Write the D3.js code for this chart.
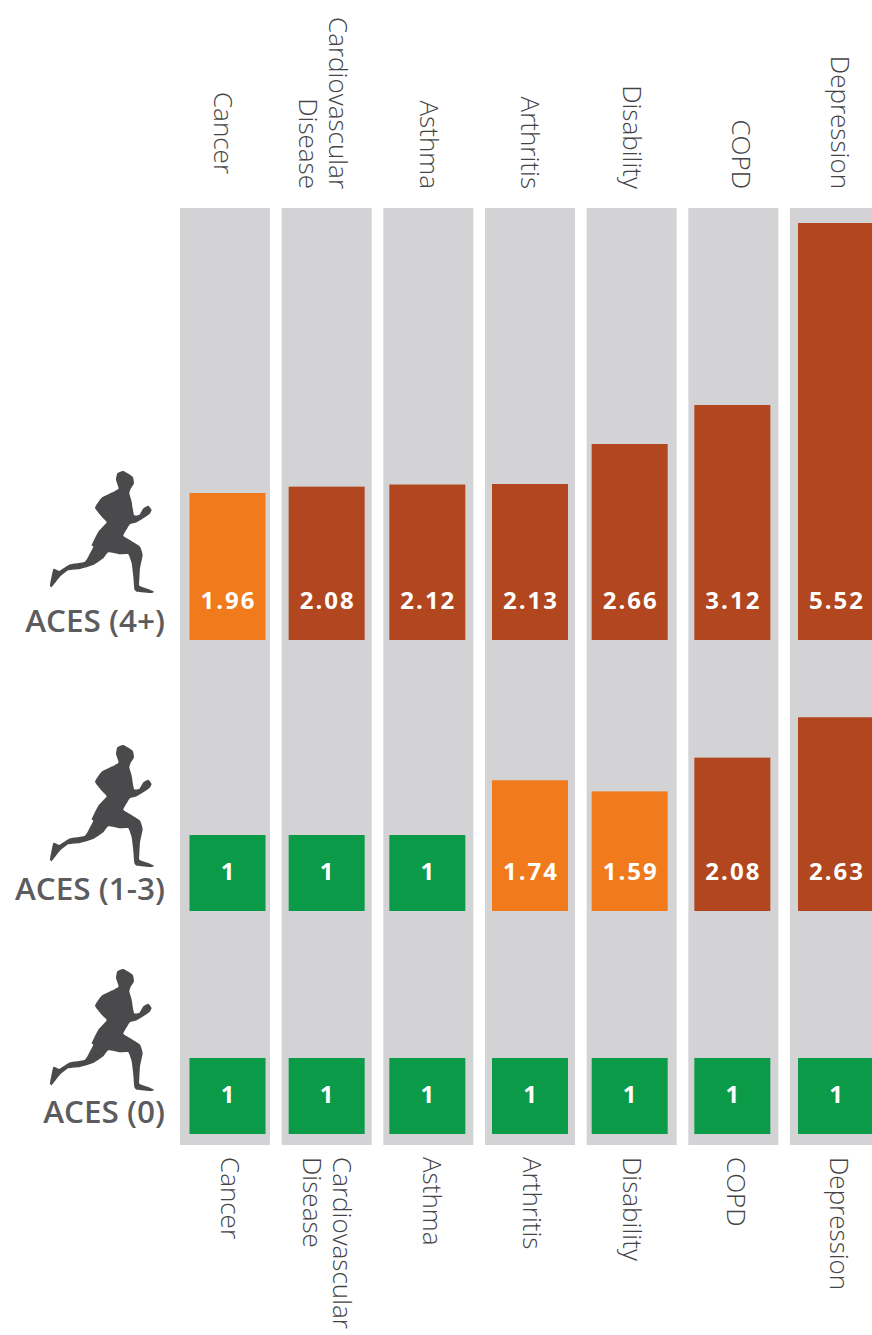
<!DOCTYPE html>
<html lang="en">
<head>
<meta charset="utf-8">
<title>ACES</title>
<script src="https://d3js.org/d3.v7.min.js"></script>
<style>
html, body { margin: 0; padding: 0; background: #fff; overflow: hidden; }
svg { display: block; }
.cat { font-family: "Open Sans", sans-serif; font-size: 26px; font-weight: 300; fill: #444446; }
.row-label { font-family: "Open Sans", sans-serif; font-size: 31.5px; font-weight: 600; fill: #5c5c5e; text-anchor: end; }
.val { font-family: "Open Sans", sans-serif; font-size: 24px; font-weight: 700; fill: #fff; text-anchor: middle; letter-spacing: 2px; }
</style>
</head>
<body>
<script>
var w = 872, h = 1335;

var categories = ["Cancer", "Cardiovascular Disease", "Asthma", "Arthritis", "Disability", "COPD", "Depression"];
var rows = ["ACES (4+)", "ACES (1-3)", "ACES (0)"];
var aces4 = [1.96, 2.08, 2.12, 2.13, 2.66, 3.12, 5.52];
var aces13 = [1, 1, 1, 1.74, 1.59, 2.08, 2.63];
var aces0 = [1, 1, 1, 1, 1, 1, 1];
var series = [aces4, aces13, aces0];

var panelTop = 208, panelBottom = 1145, barWidth = 76;
var rowBase = [640, 911, 1134];
var labelBase = [632, 900, 1123];
var runnerTop = [465, 739, 963];
// the columns in the picture are not evenly laid out
var barNudge = [2.5, 0, -1, 0, -2, -1, 1];
var topNudge = [-1, 3, 2, 1, 1, 9, 6];
var bottomNudge = [6, 7, 5, 3, 1, 4, 5];

var x = d3.scaleBand().domain(categories).range([180, 880]).paddingInner(0.115);
// bar lengths in the picture are not quite proportional to the printed values
var len = d3.scaleLinear().domain([0, 1, 1.96, 2.13, 2.66, 3.12, 5.52]).range([0, 76, 147, 156, 196, 235, 417]);
var color = d3.scaleThreshold().domain([1.01, 2]).range(["#0a9a48", "#f07a1c", "#b1461f"]);

var svg = d3.select("body").append("svg").attr("width", w).attr("height", h);

// grey columns
svg.selectAll("rect.panel")
  .data(categories)
  .enter().append("rect")
  .attr("class", "panel")
  .attr("x", function(d) { return x(d); })
  .attr("y", panelTop)
  .attr("width", x.bandwidth())
  .attr("height", panelBottom - panelTop)
  .attr("fill", "#d3d3d5");

// bars and their labels, one group per row
series.forEach(function(vals, r) {
  var g = svg.append("g");
  var cells = g.selectAll("g")
    .data(vals)
    .enter().append("g")
    .attr("transform", function(d, i) {
      return "translate(" + (x(categories[i]) + x.bandwidth() / 2 + barNudge[i]) + "," + rowBase[r] + ")";
    });
  cells.append("rect")
    .attr("x", -barWidth / 2)
    .attr("y", function(d) { return -len(d); })
    .attr("width", barWidth)
    .attr("height", function(d) { return len(d); })
    .attr("fill", function(d) { return color(d); });
  cells.append("text")
    .attr("class", "val")
    .attr("x", 1)
    .attr("y", -31)
    .text(function(d) { return d; });
});

// category names, above and below the columns
function catLabels(yPos, anchor, nudge) {
  categories.forEach(function(name, i) {
    var cx = x(name) + x.bandwidth() / 2 + nudge[i];
    var words = name === "Cardiovascular Disease" ? ["Cardiovascular", "Disease"] : [name];
    // Cancer stops short of the others at the top
    var yy = (anchor === "end" && i === 0) ? yPos - 15 : yPos;
    words.forEach(function(word, j) {
      var off = words.length > 1 ? (j === 0 ? 9 : -21) : 0;
      svg.append("text")
        .attr("class", "cat")
        .attr("text-anchor", anchor)
        .attr("dominant-baseline", "central")
        .attr("transform", "translate(" + (cx + off) + "," + yy + ") rotate(90)")
        .text(word);
    });
  });
}
catLabels(189, "end", topNudge);
catLabels(1157, "start", bottomNudge);

// runner outline
var runner = [[250,18],[278,35],[282,55],[272,72],[268,85],[275,110],[282,150],[298,150],[310,130],[325,122],[335,135],[328,148],[310,160],[290,172],[270,178],[262,190],[250,212],[270,225],[300,245],[308,270],[300,310],[298,345],[298,362],[325,372],[342,380],[335,384],[290,380],[283,372],[280,335],[275,295],[265,268],[240,268],[205,262],[190,280],[160,300],[120,312],[85,316],[60,335],[35,366],[30,360],[40,312],[58,318],[90,298],[135,290],[150,265],[160,245],[155,240],[175,200],[200,172],[185,155],[165,128],[185,98],[225,78],[236,70],[228,45],[232,25]];
var runnerPath = d3.line()
  .x(function(d) { return d[0] / 3; })
  .y(function(d) { return d[1] / 3; })
  .curve(d3.curveCardinalClosed.tension(0.6));

rows.forEach(function(label, r) {
  svg.append("path")
    .attr("d", runnerPath(runner))
    .attr("transform", "translate(40," + runnerTop[r] + ")")
    .attr("fill", "#4a4a4c");
  svg.append("text")
    .attr("class", "row-label")
    .attr("x", 165)
    .attr("y", labelBase[r])
    .text(label);
});
</script>
</body>
</html>
